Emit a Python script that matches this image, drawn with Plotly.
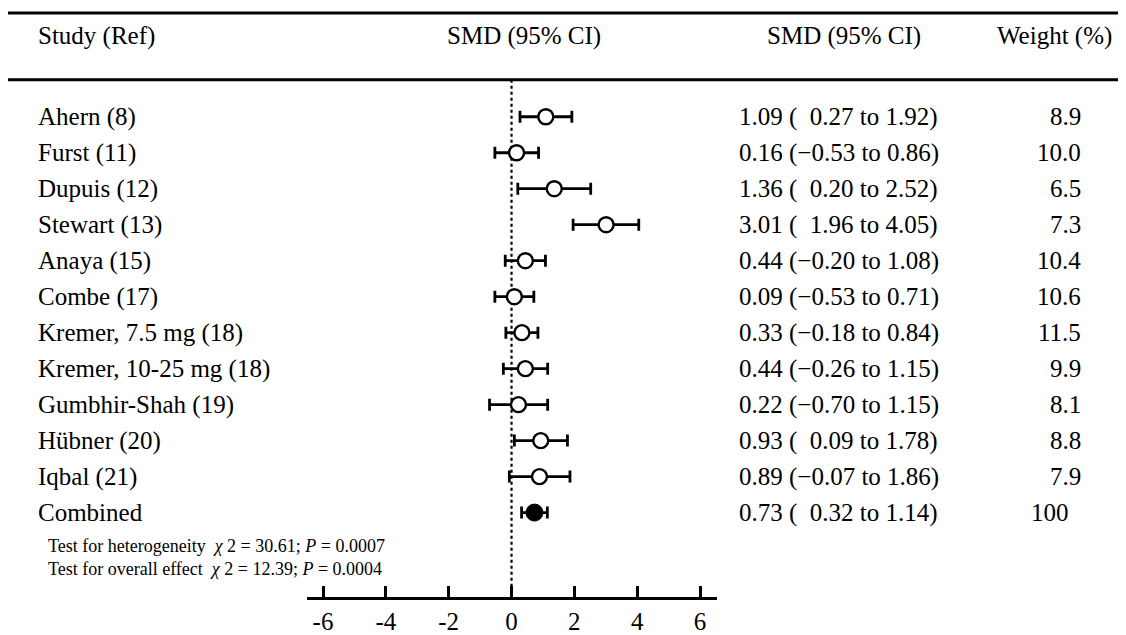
import plotly.graph_objects as go

# ---------------- data ----------------
studies = ["Ahern (8)", "Furst (11)", "Dupuis (12)", "Stewart (13)", "Anaya (15)",
           "Combe (17)", "Kremer, 7.5 mg (18)", "Kremer, 10-25 mg (18)",
           "Gumbhir-Shah (19)", "Hübner (20)", "Iqbal (21)"]
smd = [1.09, 0.16, 1.36, 3.01, 0.44, 0.09, 0.33, 0.44, 0.22, 0.93, 0.89]
ci_low = [0.27, -0.53, 0.20, 1.96, -0.20, -0.53, -0.18, -0.26, -0.70, 0.09, -0.07]
ci_high = [1.92, 0.86, 2.52, 4.05, 1.08, 0.71, 0.84, 1.15, 1.15, 1.78, 1.86]
weights = ["8.9", "10.0", "6.5", "7.3", "10.4", "10.6", "11.5", "9.9", "8.1", "8.8", "7.9"]

combined_label = "Combined"
combined_smd = [0.73]
combined_low = [0.32]
combined_high = [1.14]
combined_weight = "100"

header = ["Study (Ref)", "SMD (95% CI)", "SMD (95% CI)", "Weight (%)"]
tests = ["Test for heterogeneity\u00a0\u00a0<i>\u03c7</i> 2 = 30.61; <i>P</i> = 0.0007",
         "Test for overall effect\u00a0\u00a0<i>\u03c7</i> 2 = 12.39; <i>P</i> = 0.0004"]
tick_vals = [-6, -4, -2, 0, 2, 4, 6]
tick_text = ["-6", "-4", "-2", "0", "2", "4", "6"]

# ---------------- layout helpers (page pixel coordinates) ----------------
PAGE_W, PAGE_H = 1126, 635
OFF = 8  # default body margin of the html page
W, H = PAGE_W - OFF, PAGE_H - OFF
FONT = "Liberation Serif, Times New Roman, serif"


def px(x):
    return (x - OFF) / W


def py(y):
    return 1 - (y - OFF) / H


Y_TOP_PX, Y_BOT_PX = 81, 599
ROW_PX = 36.1
Y_MAX = (Y_BOT_PX - Y_TOP_PX) / ROW_PX  # value at axis line

rows = list(range(1, len(studies) + 1))
comb_row = len(studies) + 1

fig = go.Figure()

# studies
fig.add_trace(go.Scatter(
    x=smd, y=rows, mode="markers",
    marker=dict(symbol="circle", size=15, color="white",
                line=dict(color="black", width=2.4)),
    error_x=dict(type="data", symmetric=False,
                 array=[h - s for h, s in zip(ci_high, smd)],
                 arrayminus=[s - l for s, l in zip(smd, ci_low)],
                 color="black", thickness=2.8, width=6),
    showlegend=False, hoverinfo="skip"))

# combined
fig.add_trace(go.Scatter(
    x=combined_smd, y=[comb_row], mode="markers",
    marker=dict(symbol="circle", size=17, color="black",
                line=dict(color="black", width=1)),
    error_x=dict(type="data", symmetric=False,
                 array=[combined_high[0] - combined_smd[0]],
                 arrayminus=[combined_smd[0] - combined_low[0]],
                 color="black", thickness=2.8, width=6),
    showlegend=False, hoverinfo="skip"))


def fmt_ci(s, l, h):
    sign = "\u2212" if l < 0 else "\u2002"
    return f"{s:.2f} ({sign}{abs(l):.2f} to {h:.2f})"


annotations = []
txtfont = dict(family=FONT, size=25, color="black")

# header
HY = py(36)
annotations.append(dict(x=px(36), y=HY, xref="paper", yref="paper", text=header[0],
                        xanchor="left", yanchor="middle", showarrow=False, font=txtfont))
annotations.append(dict(x=px(524), y=HY, xref="paper", yref="paper", text=header[1],
                        xanchor="center", yanchor="middle", showarrow=False, font=txtfont))
annotations.append(dict(x=px(844), y=HY, xref="paper", yref="paper", text=header[2],
                        xanchor="center", yanchor="middle", showarrow=False, font=txtfont))
annotations.append(dict(x=px(1114), y=HY, xref="paper", yref="paper", text=header[3],
                        xanchor="right", yanchor="middle", showarrow=False, font=txtfont))

all_labels = studies + [combined_label]
all_ci = [fmt_ci(s, l, h) for s, l, h in zip(smd, ci_low, ci_high)] + \
    [fmt_ci(combined_smd[0], combined_low[0], combined_high[0])]
all_w = weights + [combined_weight]
all_rows = rows + [comb_row]

for lab, ci, w, r in zip(all_labels, all_ci, all_w, all_rows):
    annotations.append(dict(x=px(36), y=r, xref="paper", yref="y", text=lab,
                            xanchor="left", yanchor="middle", showarrow=False, font=txtfont))
    annotations.append(dict(x=px(737), y=r, xref="paper", yref="y", text=ci,
                            xanchor="left", yanchor="middle", showarrow=False, font=txtfont))
    wtxt = w if "." in w else w + "\u2002"
    annotations.append(dict(x=px(1083), y=r, xref="paper", yref="y", text=wtxt,
                            xanchor="right", yanchor="middle", showarrow=False, font=txtfont))

# test statistics
for i, t in enumerate(tests):
    annotations.append(dict(x=px(46), y=(548 + 23 * i - Y_TOP_PX) / ROW_PX, xref="paper", yref="y",
                            text=t, xanchor="left", yanchor="middle", showarrow=False,
                            font=dict(family=FONT, size=18, color="black")))

shapes = [
    dict(type="line", xref="paper", yref="paper", x0=0, x1=1, y0=py(13), y1=py(13),
         line=dict(color="black", width=2.8)),
    dict(type="line", xref="paper", yref="paper", x0=0, x1=1, y0=py(80), y1=py(80),
         line=dict(color="black", width=2.8)),
    dict(type="line", xref="x", yref="y", x0=0, x1=0, y0=-0.03, y1=Y_MAX,
         line=dict(color="black", width=2.2, dash="dot"), layer="below"),
]

fig.update_layout(
    width=W, height=H,
    margin=dict(l=0, r=0, t=0, b=0),
    paper_bgcolor="white", plot_bgcolor="white",
    annotations=annotations, shapes=shapes,
    xaxis=dict(domain=[px(307), px(717)], range=[-6.51, 6.54],
               showgrid=False, zeroline=False, showline=True, linecolor="black", linewidth=2.5,
               ticks="inside", ticklen=11, tickwidth=2.5, tickcolor="black",
               tickvals=tick_vals, ticktext=tick_text,
               tickfont=dict(family=FONT, size=25, color="black")),
    yaxis=dict(domain=[1 - (Y_BOT_PX - OFF) / H, 1 - (Y_TOP_PX - OFF) / H], range=[Y_MAX, 0],
               visible=False, showgrid=False, zeroline=False),
)

fig.write_html("out.html")
